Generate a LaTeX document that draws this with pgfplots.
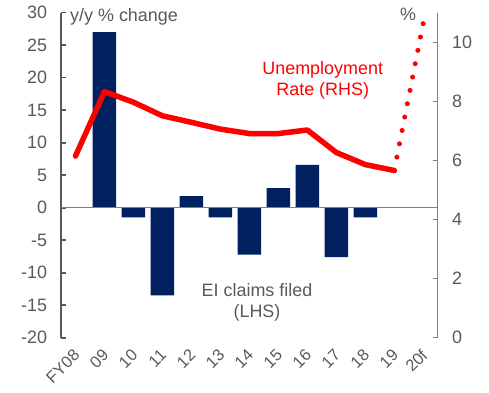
\documentclass[border=0pt]{standalone}
\usepackage{pgfplots}
\pgfplotsset{compat=1.18}
\usepackage{fontspec}
\setmainfont{Liberation Sans}
\definecolor{navy}{HTML}{002060}
\definecolor{txt}{HTML}{595959}
\definecolor{axl}{HTML}{7F7F7F}
\definecolor{axd}{HTML}{595959}
\begin{document}
\begin{tikzpicture}[x=1bp,y=1bp]
\path[use as bounding box] (0,0) rectangle (489,392);
\pgfplotsset{
  common/.style={
    at={(61bp,54.3bp)}, anchor=south west,
    width=376.7bp, height=325bp, scale only axis,
    xmin=-0.5, xmax=12.5, clip=false,
    tick align=inside, major tick length=5bp,
  }
}
\begin{axis}[common,
  ymin=-20, ymax=30,
  axis y line*=left, axis x line*=bottom,
  x axis line style={draw=none},
  y axis line style={axd, line width=1.6bp},
  ytick style={axd, line width=1.6bp},
  xtick style={draw=none},
  ytick={-20,-15,...,30},
  yticklabels={-20,-15,-10,-5,0,5,10,15,20,25,30},
  yticklabel style={xshift=-10.5bp, font=\fontsize{18}{20}\selectfont, text=txt},
  xtick={0,...,12},
  xticklabels={FY08,09,10,11,12,13,14,15,16,17,18,19,20f},
  xticklabel style={xshift=-3bp, yshift=-9bp, rotate=45, anchor=north east, inner sep=1bp,
    font=\fontsize{16.5}{18}\selectfont, text=txt},
]
\addplot[ybar, bar width=0.81, fill=navy, draw=none] coordinates {
 (1,27) (2,-1.5) (3,-13.5) (4,1.8) (5,-1.5) (6,-7.2) (7,3.0) (8,6.6) (9,-7.6) (10,-1.5)};
\addplot[axl, line width=1.5bp] coordinates {(-0.5,0) (12.5,0)};
\end{axis}
\begin{axis}[common,
  ymin=0, ymax=11,
  axis y line*=right, axis x line=none,
  y axis line style={axl, line width=1.3bp},
  ytick style={axl, line width=1.3bp},
  ytick={0,2,...,10},
  yticklabels={0,2,4,6,8,10},
  yticklabel style={xshift=11bp, font=\fontsize{18}{20}\selectfont, text=txt},
]
\addplot[red, line width=5.5bp, line join=round, line cap=round] coordinates {
 (0,6.15) (1,8.33) (2,7.97) (3,7.51) (4,7.29) (5,7.06) (6,6.91) (7,6.91) (8,7.03) (9,6.27) (10,5.86) (11,5.66)};
\addplot[red, line width=5bp, line cap=round, dash pattern=on 0bp off 13.6bp] coordinates {
 (11,5.66) (12,10.65)};
\end{axis}
\node[anchor=base west, inner sep=0, text=txt, font=\fontsize{18}{20}\selectfont] at (70,371) {y/y \% change};
\node[anchor=base west, inner sep=0, text=txt, font=\fontsize{18}{20}\selectfont] at (400,372) {\%};
\node[anchor=base, inner sep=0, text=red, font=\fontsize{18}{20}\selectfont] at (322.7,318) {Unemployment};
\node[anchor=base, inner sep=0, text=red, font=\fontsize{18}{20}\selectfont] at (322.7,297) {Rate (RHS)};
\node[anchor=base, inner sep=0, text=txt, font=\fontsize{18}{20}\selectfont] at (257,96) {EI claims filed};
\node[anchor=base, inner sep=0, text=txt, font=\fontsize{18}{20}\selectfont] at (257,75) {(LHS)};
\end{tikzpicture}
\end{document}
